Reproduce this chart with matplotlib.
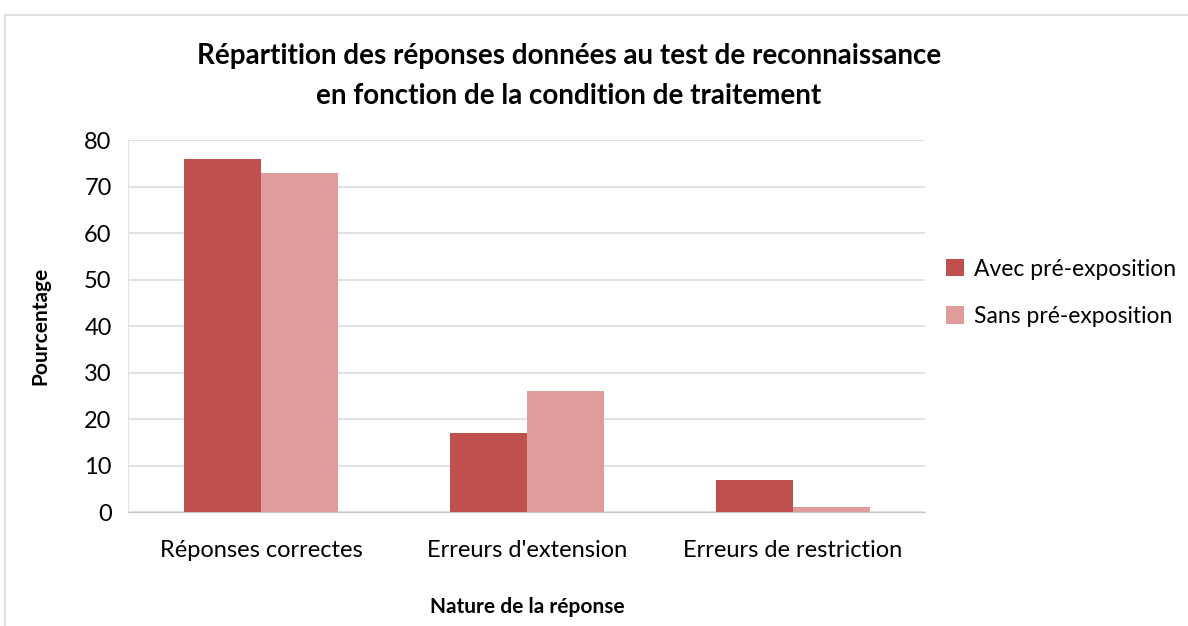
import matplotlib.pyplot as plt
import numpy as np
from matplotlib.patches import Rectangle

categories = ["Réponses correctes", "Erreurs d'extension", "Erreurs de restriction"]
avec = [76, 17, 7]
sans = [73, 26, 1]
series_names = ["Avec pré-exposition", "Sans pré-exposition"]

plt.rcParams['font.family'] = ['Lato', 'DejaVu Sans']

fig = plt.figure(figsize=(11.88, 6.26), dpi=100)
ax = fig.add_axes([0.108, 0.182, 0.671, 0.594])

# outer chart frame
fig.patches.append(Rectangle((0.004, -0.01), 1.0, 0.986, transform=fig.transFigure,
                             fill=False, edgecolor='#d8d8d8', linewidth=1.2))

x = np.arange(len(categories))
w = 0.29
ax.bar(x - w / 2, avec, w, color='#c0504d', label=series_names[0], zorder=3)
ax.bar(x + w / 2, sans, w, color='#e09c9b', label=series_names[1], zorder=3)

ax.set_xlim(-0.5, 2.5)
ax.set_ylim(0, 80)
ax.set_yticks(range(0, 81, 10))
ax.set_xticks(x)
ax.set_xticklabels(categories)
ax.tick_params(axis='both', labelsize=17, length=0, colors='black')
ax.tick_params(axis='x', pad=20)
ax.tick_params(axis='y', pad=12)
ax.grid(axis='y', color='#dcdde3', linewidth=1.2, zorder=0)
for s in ['top', 'right']:
    ax.spines[s].set_visible(False)
ax.spines['left'].set_color('#e2e2e6')
ax.spines['bottom'].set_color('#c8c8cc')

ax.set_ylabel("Pourcentage", fontsize=15, fontweight='bold', labelpad=24)
ax.set_xlabel("Nature de la réponse", fontsize=15, fontweight='bold', labelpad=26)

fig.text(0.479, 0.879, "Répartition des réponses données au test de reconnaissance\nen fonction de la condition de traitement",
         ha='center', va='center', fontsize=20, fontweight='bold', linespacing=1.65)

ax.legend(loc='center left', bbox_to_anchor=(1.0, 0.59), frameon=False, fontsize=16.5,
          handlelength=0.8, handleheight=0.8, handletextpad=0.4, labelspacing=1.15)

fig.savefig("out.png", dpi=100)
